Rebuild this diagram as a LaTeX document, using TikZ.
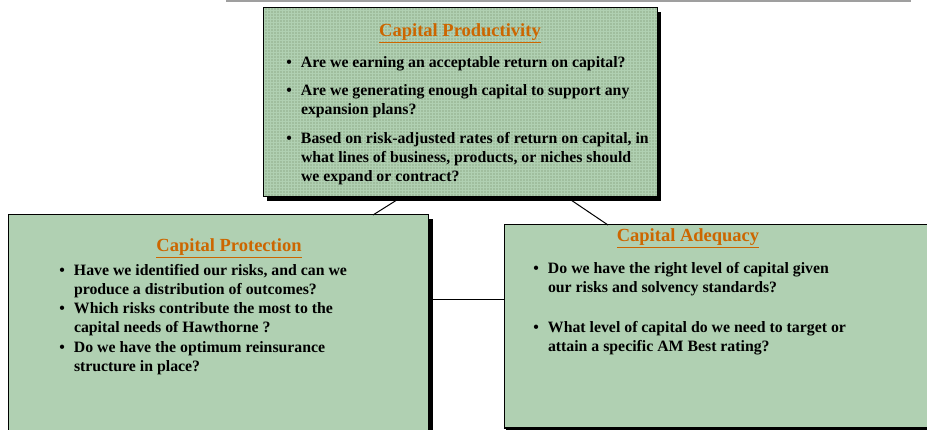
\documentclass[tikz,border=0pt]{standalone}
\usepackage{fontspec}
\setmainfont{Liberation Serif}
\usetikzlibrary{calc,shadows,patterns}

\definecolor{panelgreen}{HTML}{B0D0B2}
\definecolor{topgreen}{HTML}{A0BE9E}
\definecolor{headorange}{HTML}{CC6600}
\newcommand{\dotmark}{\llap{\textbullet\hspace{9pt}}}

\begin{document}
\begin{tikzpicture}[x=1pt,y=-1pt]
        \tikzstyle{every node}=[inner sep=0pt, outer sep=0pt]
        \tikzstyle{panel}=[draw=black, line width=1pt, fill=panelgreen, anchor=north west]
        \tikzstyle{heading}=[font=\fontsize{18.5}{20}\selectfont\bfseries, text=headorange, anchor=base]
        \tikzstyle{point}=[font=\fontsize{15.8}{19.3}\selectfont\bfseries, anchor=base west, align=left]
        \tikzstyle{link}=[draw=black, line width=1pt]
        \useasboundingbox (0,0) rectangle (927,430);
        \draw[gray!75, line width=1.5pt] (226,1.2) -- (911,1.2);
        % the three boxes
        \node[panel, minimum width=394pt, minimum height=189pt,
              drop shadow={shadow xshift=4pt, shadow yshift=-4pt, fill=black, opacity=1},
              preaction={fill=topgreen}, pattern=grid, pattern color=panelgreen] (prod) at (263,8) {};
        \node[panel, minimum width=420pt, minimum height=240pt,
              drop shadow={shadow xshift=5pt, shadow yshift=-4pt, fill=black, opacity=1}] (prot) at (8,215) {};
        \node[panel, minimum width=440pt, minimum height=203pt,
              drop shadow={shadow xshift=1.5pt, shadow yshift=-1.5pt, fill=black, opacity=1}] (adeq) at (504,225) {};
        % connectors
        \draw[link] ($(prod.south west)+(137,1)$) -- ($(prot.north west)+(365,0)$);
        \draw[link] ($(prod.south west)+(305,1)$) -- ($(adeq.north west)+(104,0)$);
        \draw[link] ($(prot.north east)+(5,85)$) -- ($(adeq.north west)+(0,75)$);
        % Capital Productivity (anchor is the baseline of the last line)
        \node[heading] (prodT) at (460,37) {\underline{Capital Productivity}};
        \node[point] (prodA) at (301,68) {\dotmark Are we earning an acceptable return on capital?};
        \node[point] (prodB) at (301,115) {\dotmark Are we generating enough capital to support any\\expansion plans?};
        \node[point] (prodC) at (301,182) {\dotmark Based on risk-adjusted rates of return on capital, in\\what lines of business, products, or niches should\\we expand or contract?};
        % Capital Protection
        \node[heading] (protT) at (229,252) {\underline{Capital Protection}};
        \node[point] (protA) at (74,295) {\dotmark Have we identified our risks, and can we\\produce a distribution of outcomes?};
        \node[point] (protB) at (74,333) {\dotmark Which risks contribute the most to the\\capital needs of Hawthorne ?};
        \node[point] (protC) at (74,372) {\dotmark Do we have the optimum reinsurance\\structure in place?};
        % Capital Adequacy
        \node[heading] (adeqT) at (688,242) {\underline{Capital Adequacy}};
        \node[point] (adeqA) at (548,293) {\dotmark Do we have the right level of capital given\\our risks and solvency standards?};
        \node[point] (adeqB) at (548,352) {\dotmark What level of capital do we need to target or\\attain a specific AM Best rating?};
    \end{tikzpicture}
\end{document}
